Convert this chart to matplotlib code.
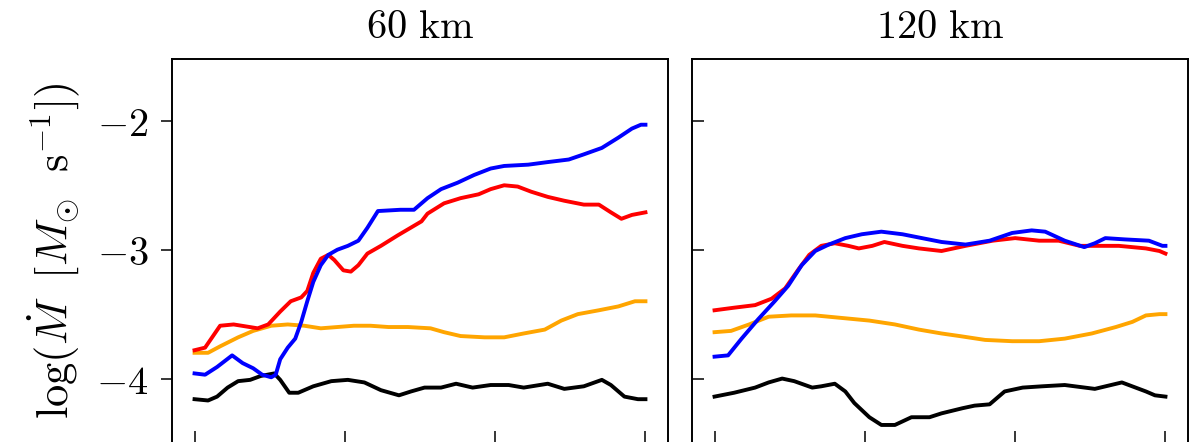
import matplotlib
matplotlib.use("Agg")
import matplotlib.pyplot as plt

plt.rcParams["mathtext.fontset"] = "cm"

# accretion rate log10(Mdot) vs time after bounce [ms]
# --- 60 km ---
t60_red = [0, 7, 17, 26, 42, 49, 57, 64, 71, 75, 79, 84, 89, 93, 99, 104, 109, 115, 124, 135,
           151, 155, 166, 177, 189, 197, 206, 215, 224, 235, 246, 259, 269, 277, 284, 291, 300]
m60_red = [-3.78, -3.76, -3.59, -3.58, -3.61, -3.58, -3.48, -3.40, -3.37, -3.32,
           -3.18, -3.07, -3.04, -3.08, -3.16, -3.17, -3.12, -3.03, -2.97, -2.89,
           -2.78, -2.72, -2.64, -2.60, -2.57, -2.53, -2.50, -2.51, -2.55, -2.59,
           -2.62, -2.65, -2.65, -2.71, -2.76, -2.73, -2.71]

t60_blue = [0, 7, 15, 25, 32, 39, 45, 51, 54, 57, 62, 67, 71, 75, 79, 84, 89, 95, 102, 109,
            115, 122, 137, 146, 155, 164, 175, 186, 197, 206, 222, 235, 249, 259, 271, 282, 291, 297, 300]
m60_blue = [-3.96, -3.97, -3.91, -3.82, -3.88, -3.92, -3.97, -3.99, -3.97, -3.85,
            -3.76, -3.69, -3.56, -3.40, -3.25, -3.12, -3.04, -3.00, -2.97, -2.93,
            -2.83, -2.70, -2.69, -2.69, -2.60, -2.53, -2.48, -2.42, -2.37, -2.35,
            -2.34, -2.32, -2.30, -2.26, -2.21, -2.13, -2.06, -2.03, -2.03]

t60_orange = [0, 9, 17, 29, 39, 51, 62, 73, 84, 95, 106, 117, 129, 142, 157, 166, 177, 193, 206, 219,
              233, 244, 255, 269, 282, 293, 300]
m60_orange = [-3.80, -3.80, -3.75, -3.68, -3.63, -3.59, -3.58, -3.59, -3.61, -3.60,
              -3.59, -3.59, -3.60, -3.60, -3.61, -3.64, -3.67, -3.68, -3.68, -3.65,
              -3.62, -3.55, -3.50, -3.47, -3.44, -3.40, -3.40]

t60_black = [0, 9, 15, 22, 29, 37, 44, 53, 57, 63, 69, 79, 91, 102, 113, 124, 136, 144, 153, 164,
             174, 185, 197, 209, 219, 235, 246, 259, 271, 277, 286, 295, 300]
m60_black = [-4.16, -4.17, -4.14, -4.07, -4.02, -4.01, -3.98, -3.96, -4.01, -4.11,
             -4.11, -4.06, -4.02, -4.01, -4.03, -4.09, -4.13, -4.10, -4.07, -4.07,
             -4.04, -4.07, -4.05, -4.05, -4.07, -4.04, -4.08, -4.06, -4.01, -4.05,
             -4.14, -4.16, -4.16]

# --- 120 km ---
t120_red = [0, 13, 27, 38, 47, 56, 63, 71, 80, 89, 96, 105, 113, 125, 136, 151, 167, 185, 200, 216,
            229, 243, 256, 269, 287, 296, 300]
m120_red = [-3.47, -3.45, -3.43, -3.38, -3.30, -3.15, -3.04, -2.97, -2.95, -2.97,
            -2.99, -2.97, -2.94, -2.97, -2.99, -3.01, -2.97, -2.93, -2.91, -2.93,
            -2.93, -2.97, -2.97, -2.97, -2.99, -3.01, -3.03]

t120_blue = [0, 9, 18, 29, 40, 49, 58, 67, 76, 87, 98, 111, 125, 138, 151, 167, 183, 198, 211, 220,
             233, 246, 253, 260, 273, 289, 298, 300]
m120_blue = [-3.83, -3.82, -3.69, -3.54, -3.40, -3.28, -3.12, -3.01, -2.96, -2.91,
             -2.88, -2.86, -2.88, -2.91, -2.94, -2.96, -2.93, -2.87, -2.85, -2.86,
             -2.93, -2.98, -2.95, -2.91, -2.92, -2.93, -2.97, -2.97]

t120_orange = [0, 11, 23, 36, 51, 67, 85, 103, 120, 136, 151, 163, 180, 198, 216, 233, 251, 267, 278, 287,
               296, 300]
m120_orange = [-3.64, -3.63, -3.58, -3.52, -3.51, -3.51, -3.53, -3.55, -3.58, -3.62,
               -3.65, -3.67, -3.70, -3.71, -3.71, -3.69, -3.65, -3.60, -3.56, -3.51,
               -3.50, -3.50]

t120_black = [0, 13, 27, 36, 45, 53, 65, 71, 80, 87, 93, 103, 111, 120, 131, 143, 151, 165, 173, 183,
              193, 205, 218, 233, 253, 271, 287, 293, 300]
m120_black = [-4.14, -4.11, -4.07, -4.03, -4.00, -4.02, -4.07, -4.06, -4.04, -4.10,
              -4.19, -4.30, -4.36, -4.36, -4.30, -4.30, -4.27, -4.23, -4.21, -4.20,
              -4.10, -4.07, -4.06, -4.05, -4.08, -4.03, -4.10, -4.13, -4.14]

titles = [r"$\mathrm{60\ km}$", r"$\mathrm{120\ km}$"]
yticks = [-4, -3, -2]
ytick_labels = [r"$-4$", r"$-3$", r"$-2$"]
xticks = [0, 100, 200, 300]

runs = [
    [(t60_black, m60_black, "black"), (t60_orange, m60_orange, "orange"),
     (t60_red, m60_red, "red"), (t60_blue, m60_blue, "blue")],
    [(t120_black, m120_black, "black"), (t120_orange, m120_orange, "orange"),
     (t120_red, m120_red, "red"), (t120_blue, m120_blue, "blue")],
]

W, H = 1197, 442
fig = plt.figure(figsize=(W / 100, H / 100), dpi=100)
ax1 = fig.add_axes([172 / W, -1 / H, 496 / W, 384 / H])
ax2 = fig.add_axes([692 / W, -1 / H, 496 / W, 384 / H])

for ax, title, lines in zip([ax1, ax2], titles, runs):
    for t, m, c in lines:
        ax.plot(t, m, color=c, lw=2.8, solid_joinstyle="round")
    ax.set_xlim(-15, 315)
    ax.set_ylim(-4.5, -1.52)
    ax.set_xticks(xticks)
    ax.set_xticklabels([])
    ax.set_yticks(yticks)
    ax.tick_params(axis="x", direction="in", length=8.6, width=1.1)
    for s in ax.spines.values():
        s.set_linewidth(1.4)
    ax.set_title(title, fontsize=29, pad=15)

ax1.set_yticklabels(ytick_labels, fontsize=29)
ax1.tick_params(axis="y", direction="out", length=8, width=1.1, pad=9)
ax1.set_ylabel(r"$\log(\dot{M}\ \;[M_{\odot}\ \;\mathrm{s}^{-1}])$", fontsize=32, labelpad=10)

ax2.set_yticklabels([])
ax2.tick_params(axis="y", direction="in", length=8.6, width=1.1)

fig.savefig("out.png", dpi=100)
